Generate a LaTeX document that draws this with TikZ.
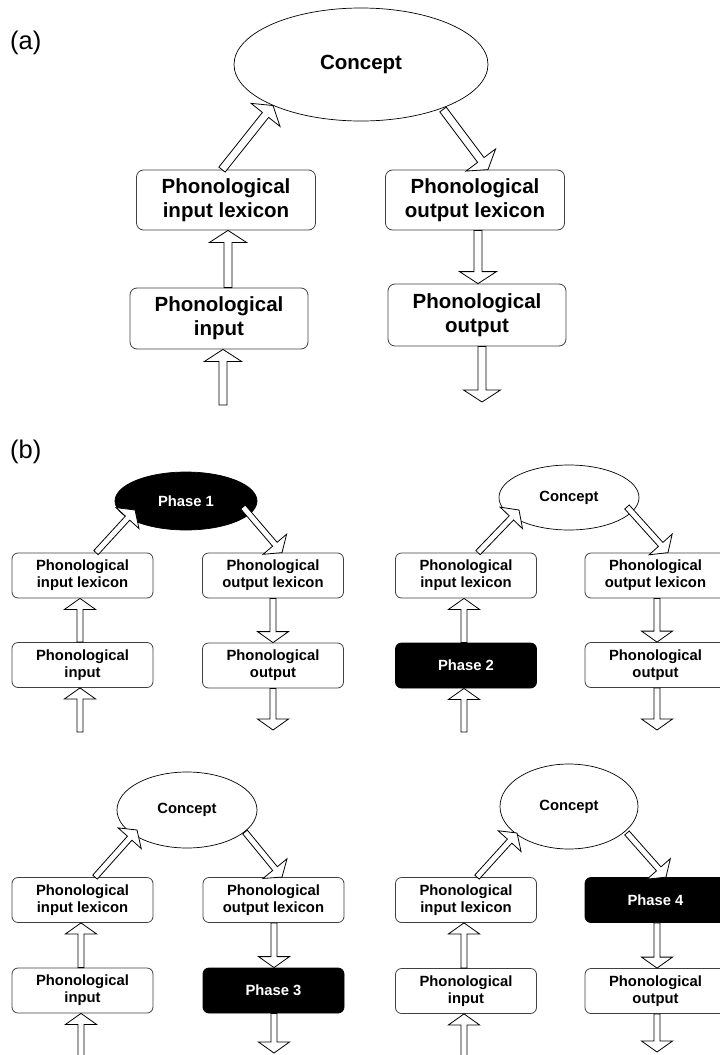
\documentclass[tikz,border=0pt]{standalone}
\usepackage{fontspec}
\setmainfont{Liberation Sans}
\usetikzlibrary{calc,shapes.geometric}

% hollow block arrow from #1 to #2 (sizes in \sw, \hw, \hl)
\newcommand\blockarrow[2]{%
  \coordinate (m) at ($(#2)!\hl!(#1)$);
  \draw[hollow] ($(#1)!\sw!90:(#2)$) -- ($(m)!\sw!90:(#2)$) -- ($(m)!\hw!90:(#2)$) -- (#2)
    -- ($(m)!\hw!-90:(#2)$) -- ($(m)!\sw!-90:(#2)$) -- ($(#1)!\sw!-90:(#2)$) -- cycle;}

\begin{document}
\begin{tikzpicture}[x=1pt,y=-1pt]
        \tikzstyle{box}=[draw=black!75,line width=0.8pt,rounded corners=7pt,fill=white,align=center,inner sep=0pt,minimum width=179pt,minimum height=60pt,font=\bfseries\fontsize{20.5}{24}\selectfont]
        \tikzstyle{small box}=[box,rounded corners=6pt,minimum width=141pt,minimum height=45pt,font=\bfseries\fontsize{14.8}{17}\selectfont]
        \tikzstyle{phase box}=[small box,draw=black,fill=black,text=white]
        \tikzstyle{idea}=[draw,ellipse,line width=0.7pt,fill=white,inner sep=0pt,font=\bfseries\fontsize{14.8}{17}\selectfont]
        \tikzstyle{hollow}=[draw,fill=white,line width=0.8pt,line join=miter]
        \tikzstyle{tag}=[anchor=base west,inner sep=0pt,font=\fontsize{25.5}{30}\selectfont]
        \clip (0,0) rectangle (720,1055);

        % (a)
        \node[tag] (taga) at (10,49) {(a)};
        \node[idea,minimum width=254pt,minimum height=113pt,font=\bfseries\fontsize{20.5}{24}\selectfont] (concept) at (361,64.5) {Concept};
        \node[box] (ilex) at (226,200) {Phonological\\input lexicon};
        \node[box] (olex) at (475,200) {Phonological\\output lexicon};
        \node[box,minimum width=178pt,minimum height=61pt] (inp) at (219,318.5) {Phonological\\input};
        \node[box,minimum width=178pt,minimum height=62pt] (outp) at (477,315) {Phonological\\output};

        \def\sw{4pt}\def\hw{18.5pt}\def\hl{12pt}
        \coordinate (a1) at ($(ilex.north)+(-4,0)$);
        \coordinate (a2) at ($(concept)+(-88,41)$);
        \coordinate (a3) at ($(concept)+(82,45)$);
        \coordinate (a4) at ($(olex.north)+(13,0)$);
        \coordinate (a5) at (223,405);
        \coordinate (a6) at (482,402);
        \coordinate (a7) at (228,0);
        \coordinate (a8) at (478,0);
        \blockarrow{a1}{a2}
        \blockarrow{a3}{a4}
        \blockarrow{a7 |- inp.north}{a7 |- ilex.south}
        \blockarrow{a5}{a5 |- inp.south}
        \blockarrow{a8 |- olex.south}{a8 |- outp.north}
        \blockarrow{a6 |- outp.south}{a6}

        % (b)
        \node[tag] (tagb) at (10,458) {(b)};
        \def\sw{3pt}\def\hw{15.5pt}\def\hl{11pt}

        % phase 1
        \node[idea,fill=black,text=white,minimum width=142pt,minimum height=58pt] (ph1) at (186,501) {Phase 1};
        \node[small box] (ilex1) at (82.5,575.5) {Phonological\\input lexicon};
        \node[small box] (olex1) at (273,575.5) {Phonological\\output lexicon};
        \node[small box] (inp1) at (82.5,665) {Phonological\\input};
        \node[small box] (out1) at (273,665.5) {Phonological\\output};
        \coordinate (p1a) at ($(ilex1.north)+(13.5,0)$);
        \coordinate (p1b) at ($(ph1)+(-51,9)$);
        \coordinate (p1c) at ($(ph1)+(57,6)$);
        \coordinate (p1d) at ($(olex1.north)+(9,0)$);
        \coordinate (p1e) at (80,732);
        \coordinate (p1f) at (273,730);
        \blockarrow{p1a}{p1b}
        \blockarrow{p1c}{p1d}
        \blockarrow{p1e |- inp1.north}{p1e |- ilex1.south}
        \blockarrow{p1e}{p1e |- inp1.south}
        \blockarrow{p1f |- olex1.south}{p1f |- out1.north}
        \blockarrow{p1f |- out1.south}{p1f}

        % phase 2
        \node[idea,minimum width=140pt,minimum height=65pt] (con2) at (569,497.5) {Concept};
        \node[small box] (ilex2) at (466,575.5) {Phonological\\input lexicon};
        \node[small box] (olex2) at (655.5,575.5) {Phonological\\output lexicon};
        \node[phase box] (ph2) at (466,665.5) {Phase 2};
        \node[small box] (out2) at (655.5,665) {Phonological\\output};
        \coordinate (p2a) at ($(ilex2.north)+(12,0)$);
        \coordinate (p2b) at ($(con2)+(-50,12.5)$);
        \coordinate (p2c) at ($(con2)+(58,9.5)$);
        \coordinate (p2d) at ($(olex2.north)+(12.5,0)$);
        \coordinate (p2e) at (464,732);
        \coordinate (p2f) at (657,730);
        \blockarrow{p2a}{p2b}
        \blockarrow{p2c}{p2d}
        \blockarrow{p2e |- ph2.north}{p2e |- ilex2.south}
        \blockarrow{p2e}{p2e |- ph2.south}
        \blockarrow{p2f |- olex2.south}{p2f |- out2.north}
        \blockarrow{p2f |- out2.south}{p2f}

        % phase 3
        \node[idea,minimum width=140pt,minimum height=76pt] (con3) at (187,810) {Concept};
        \node[small box] (ilex3) at (82.5,900) {Phonological\\input lexicon};
        \node[small box] (olex3) at (273.5,900) {Phonological\\output lexicon};
        \node[small box] (inp3) at (82.5,990.5) {Phonological\\input};
        \node[phase box] (ph3) at (273.5,990.5) {Phase 3};
        \coordinate (p3a) at ($(ilex3.north)+(12.5,0)$);
        \coordinate (p3b) at ($(con3)+(-50,20)$);
        \coordinate (p3c) at ($(con3)+(58,22)$);
        \coordinate (p3d) at ($(olex3.north)+(8.5,0)$);
        \coordinate (p3e) at (81,1060);
        \coordinate (p3f) at (274,1053);
        \blockarrow{p3a}{p3b}
        \blockarrow{p3c}{p3d}
        \blockarrow{p3e |- inp3.north}{p3e |- ilex3.south}
        \blockarrow{p3e}{p3e |- inp3.south}
        \blockarrow{p3f |- olex3.south}{p3f |- ph3.north}
        \blockarrow{p3f |- ph3.south}{p3f}

        % phase 4
        \node[idea,minimum width=138pt,minimum height=85pt] (con4) at (569,806.5) {Concept};
        \node[small box] (ilex4) at (466,900) {Phonological\\input lexicon};
        \node[phase box] (ph4) at (655.5,900) {Phase 4};
        \node[small box] (inp4) at (466,991) {Phonological\\input};
        \node[small box] (out4) at (655.5,991) {Phonological\\output};
        \coordinate (p4a) at ($(ilex4.north)+(11,0)$);
        \coordinate (p4b) at ($(con4)+(-52,26.5)$);
        \coordinate (p4c) at ($(con4)+(58,26.5)$);
        \coordinate (p4d) at ($(ph4.north)+(10.5,0)$);
        \coordinate (p4e) at (464,1060);
        \coordinate (p4f) at (657,1052);
        \blockarrow{p4a}{p4b}
        \blockarrow{p4c}{p4d}
        \blockarrow{p4e |- inp4.north}{p4e |- ilex4.south}
        \blockarrow{p4e}{p4e |- inp4.south}
        \blockarrow{p4f |- ph4.south}{p4f |- out4.north}
        \blockarrow{p4f |- out4.south}{p4f}
    \end{tikzpicture}
\end{document}
